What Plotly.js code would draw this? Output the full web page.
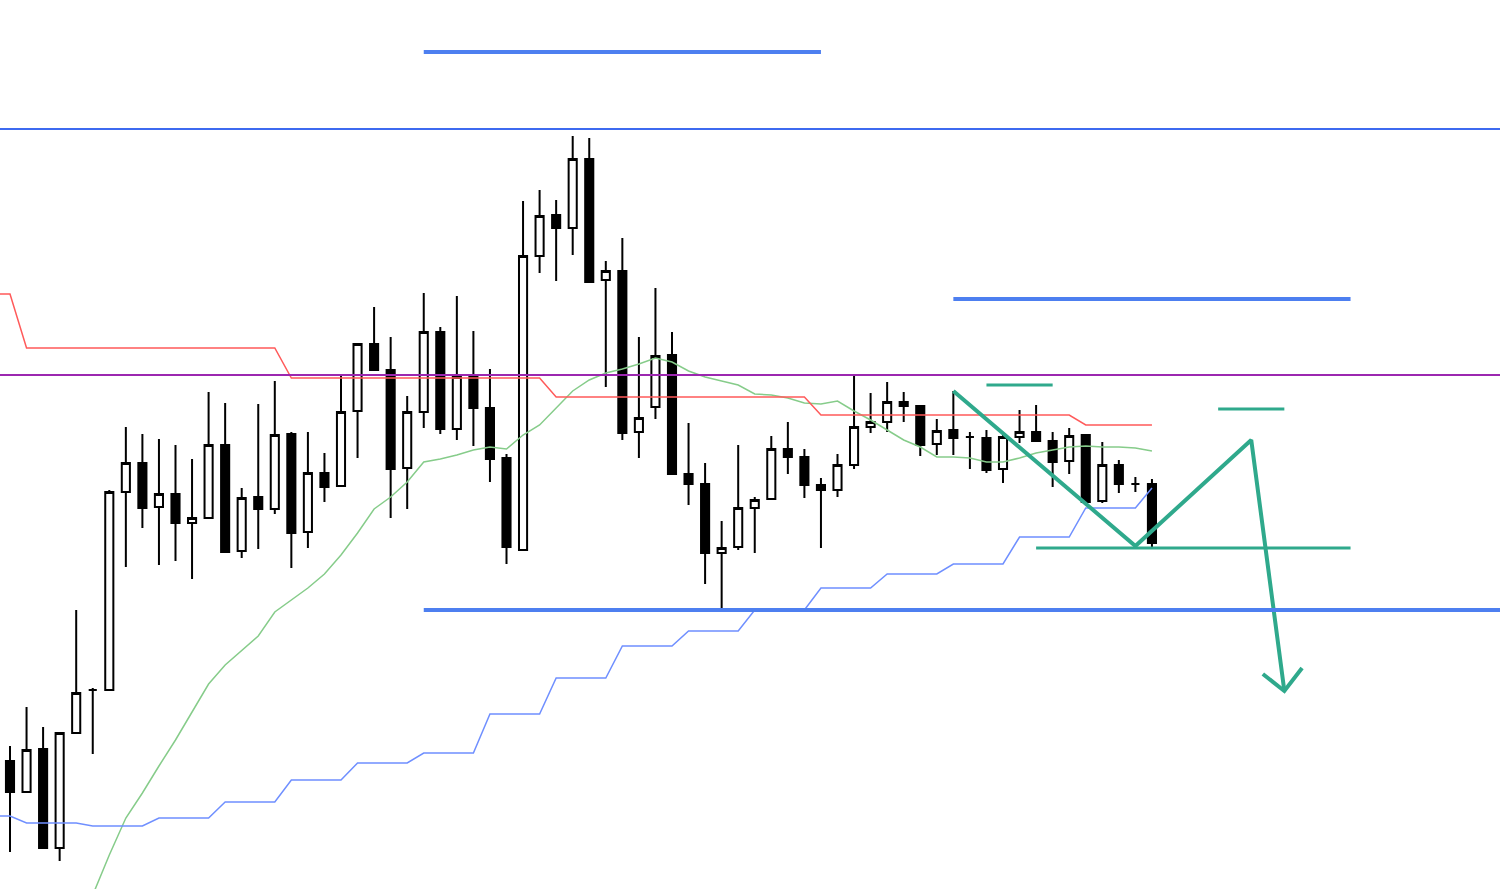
<!DOCTYPE html>
<html>
<head>
<meta charset="utf-8">
<script src="https://cdn.plot.ly/plotly-3.0.1.min.js"></script>
<style>
html,body{margin:0;padding:0;background:#ffffff;overflow:hidden}
#chart{width:1500px;height:889px}
</style>
</head>
<body>
<div id="chart"></div>
<script>
const TOP = 889;
const toPrice = v => TOP - v;

// Candles (bar index 0..69)
const openRead  = [761,792,749,848,733,690,690,492,463,507,494,523,518,445,551,497,509,434,532,473,486,411,344,370,468,412,332,429,377,408,458,550,256,215,228,159,280,271,432,407,355,474,484,553,547,508,499,449,457,485,490,465,427,422,402,406,444,430,437,438,469,437,432,441,461,435,501,465,484,484];
const highRead  = [746,707,727,732,610,688,490,427,434,439,445,459,392,403,488,404,381,432,432,453,376,343,307,337,396,293,327,296,331,369,454,201,190,200,136,138,261,238,337,288,332,423,463,521,445,497,436,422,449,478,454,375,393,382,392,406,419,391,432,430,433,410,405,432,428,435,442,460,477,479];
const lowRead   = [852,792,848,861,733,754,690,567,528,565,561,579,519,552,558,549,514,568,548,502,486,458,370,518,509,428,434,440,446,482,564,550,273,281,255,282,387,440,458,419,474,505,584,610,550,553,499,474,498,548,497,469,433,432,422,456,455,455,469,473,483,443,441,487,474,505,503,493,492,548];
const closeRead = [792,750,848,733,693,690,492,463,508,494,523,518,445,552,498,509,435,533,473,487,412,344,370,469,412,332,429,377,408,459,547,256,216,228,159,282,271,433,418,356,474,484,553,548,508,500,449,457,485,490,465,427,422,402,406,445,431,438,437,470,437,432,441,462,436,502,465,484,484,543];
const barIndex = openRead.map((_, i) => i);

// Indicator lines, bar index -1..69
const lineIndex = [-1].concat(barIndex);
const baseLineRead = [294,294,
  348,348,348,348,348,348,348,348,348,348,348,348,348,348,348,348,
  378,378,378,378,378,378,378,378,378,378,378,378,378,378,378,378,
  397,397,397,397,397,397,397,397,397,397,397,397,397,397,397,397,
  415,415,415,415,415,415,415,415,415,415,415,415,415,415,415,415,
  425,425,425,425,425];
const stepLineRead = [816,816,
  823,823,823,823, 826,826,826,826, 818,818,818,818, 802,802,802,802,
  780,780,780,780, 763,763,763,763, 753,753,753,753, 714,714,714,714,
  678,678,678,678, 646,646,646,646, 631,631,631,631, 610,610,610,610,
  588,588,588,588, 574,574,574,574, 564,564,564,564, 537,537,537,537,
  508,508,508,508, 488];
// Moving average, bar index 5..69
const maIndex = barIndex.slice(5);
const maRead = [895,855,818,793,766,740,712,684,665,650,636,612,600,588,574,555,533,509,497,482,
  462,459,455,450,447,449,435,425,408,391,380,373,369,364,358,362,371,377,381,385,
  394,395,398,403,404,401,411,420,430,440,447,457,457,458,462,462,458,453,450,447,
  446,447,447,448,451];

// Drawn levels
const thinBlueLevel = 129;
const purpleLevel = 375;
const zoneLevels = [52, 299, 610];
const zoneStart  = [25, 57, 25];
const zoneEnd    = [49, 81, 91];
const tealLevels = [385, 409, 548];
const tealStart  = [59, 73, 62];
const tealEnd    = [63, 77, 81];
// Scenario path and arrow head
const pathIndex = [57, 68, 75, 77];
const pathRead  = [391, 546, 440, 691];
const headIndex = [75.7, 77, 78.07];
const headRead  = [674, 691, 668];

const traces = [
  {type:'scatter', mode:'lines', x: maIndex, y: maRead.map(toPrice),
   line:{color:'#86cc8a', width:1.5}, hoverinfo:'skip'},
  {type:'scatter', mode:'lines', x: lineIndex, y: baseLineRead.map(toPrice),
   line:{color:'#ff5a5a', width:1.5}, hoverinfo:'skip'},
  {type:'scatter', mode:'lines', x: lineIndex, y: stepLineRead.map(toPrice),
   line:{color:'#6f8fff', width:1.5}, hoverinfo:'skip'},
  {type:'candlestick', x: barIndex,
   open: openRead.map(toPrice), high: highRead.map(toPrice),
   low: lowRead.map(toPrice), close: closeRead.map(toPrice),
   increasing:{line:{color:'#000000', width:2}, fillcolor:'#ffffff'},
   decreasing:{line:{color:'#000000', width:2}, fillcolor:'#000000'},
   whiskerwidth:0, hoverinfo:'skip'},
  {type:'scatter', mode:'lines', x: pathIndex, y: pathRead.map(toPrice),
   line:{color:'#2fa98c', width:4}, hoverinfo:'skip'},
  {type:'scatter', mode:'lines', x: headIndex, y: headRead.map(toPrice),
   line:{color:'#2fa98c', width:4}, hoverinfo:'skip'}
];

const shapes = [];
shapes.push({type:'line', xref:'paper', yref:'y', x0:0, x1:1,
  y0:toPrice(thinBlueLevel), y1:toPrice(thinBlueLevel), line:{color:'#3d6af0', width:2}});
shapes.push({type:'line', xref:'paper', yref:'y', x0:0, x1:1,
  y0:toPrice(purpleLevel), y1:toPrice(purpleLevel), line:{color:'#9c27b0', width:2}});
zoneLevels.forEach((lv, k) => shapes.push({type:'line', xref:'x', yref:'y',
  x0:zoneStart[k], x1:zoneEnd[k], y0:toPrice(lv), y1:toPrice(lv),
  line:{color:'#4d7ff0', width:4}}));
tealLevels.forEach((lv, k) => shapes.push({type:'line', xref:'x', yref:'y',
  x0:tealStart[k], x1:tealEnd[k], y0:toPrice(lv), y1:toPrice(lv),
  line:{color:'#2fa98c', width:3}}));

const layout = {
  width:1500, height:889, autosize:false,
  margin:{l:0, r:0, t:0, b:0, pad:0},
  paper_bgcolor:'#ffffff', plot_bgcolor:'#ffffff',
  showlegend:false,
  xaxis:{range:[-0.604, 90.03], visible:false, showgrid:false, zeroline:false,
         rangeslider:{visible:false}, fixedrange:true},
  yaxis:{range:[0, TOP], visible:false, showgrid:false, zeroline:false, fixedrange:true},
  shapes: shapes
};

Plotly.newPlot('chart', traces, layout, {displayModeBar:false, staticPlot:true});
</script>
</body>
</html>
